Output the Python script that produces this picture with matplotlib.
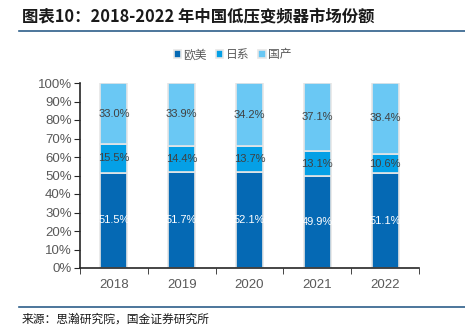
import matplotlib.pyplot as plt
import numpy as np

plt.rcParams['font.family'] = ['Noto Sans CJK SC', 'DejaVu Sans']

years = ["2018", "2019", "2020", "2021", "2022"]
europe_us = [51.5, 51.7, 52.1, 49.9, 51.1]
japan = [15.5, 14.4, 13.7, 13.1, 10.6]
domestic = [33.0, 33.9, 34.2, 37.1, 38.4]
series_names = ["欧美", "日系", "国产"]

colors = ["#0569b4", "#05a0e6", "#6ac8f4"]
num_font = "Liberation Sans"

fig = plt.figure(figsize=(4.65, 3.34), dpi=100)
ax = fig.add_axes([80 / 465, 66 / 334, 339 / 465, 185 / 334])

x = np.arange(len(years))
bottom = np.zeros(len(years))
for vals, name, c in zip([europe_us, japan, domestic], series_names, colors):
    vals = np.array(vals)
    ax.bar(x, vals, 0.4, bottom=bottom, color=c, edgecolor="#e6e6e6",
           linewidth=1.2, label=name)
    tc = "white" if c == colors[0] else "#404040"
    for xi, b, v in zip(x, bottom, vals):
        ax.text(xi, b + v / 2, f"{v:.1f}%", ha="center", va="center",
                fontsize=8, color=tc, family=num_font)
    bottom += vals

ax.set_xlim(-0.5, len(years) - 0.5)
ax.set_ylim(0, 100)
ax.set_yticks(np.arange(0, 101, 10))
ax.set_yticklabels([f"{v}%" for v in range(0, 101, 10)])
ax.set_xticks(x)
ax.set_xticklabels(years)
ax.set_xticks(np.arange(-0.5, len(years), 1), minor=True)
ax.tick_params(axis="x", which="major", length=0, pad=8)
ax.tick_params(axis="x", which="minor", length=4, direction="out",
               color="#262626")
ax.tick_params(axis="y", length=4, color="#262626", pad=2)
ax.tick_params(labelsize=9.5, labelcolor="#595959")
for lab in ax.get_xticklabels() + ax.get_yticklabels():
    lab.set_family(num_font)
for s in ["top", "right"]:
    ax.spines[s].set_visible(False)
for s in ["left", "bottom"]:
    ax.spines[s].set_color("#262626")
    ax.spines[s].set_linewidth(1.2)

ax.legend(loc="upper center", bbox_to_anchor=(0.45, 1.245), ncol=3,
          frameon=False, fontsize=8.5, handlelength=0.6, handleheight=0.6,
          handletextpad=0.2, columnspacing=0.8, labelcolor="#595959")

fig.text(22 / 465, 1 - 16 / 334, "图表10：2018-2022 年中国低压变频器市场份额",
         fontsize=11.8, fontweight="bold", style="italic", va="center",
         color="#1a1a1a")
fig.add_artist(plt.Line2D([19 / 465, 1], [1 - 31 / 334, 1 - 31 / 334],
                          color="#2e5f8a", linewidth=1.2))
fig.add_artist(plt.Line2D([19 / 465, 1], [1 - 307 / 334, 1 - 307 / 334],
                          color="#2e5f8a", linewidth=1.2))
fig.text(22 / 465, 1 - 319 / 334, "来源：思瀚研究院，国金证券研究所",
         fontsize=8.5, va="center", color="#1a1a1a")

fig.savefig("out.png", dpi=100)
